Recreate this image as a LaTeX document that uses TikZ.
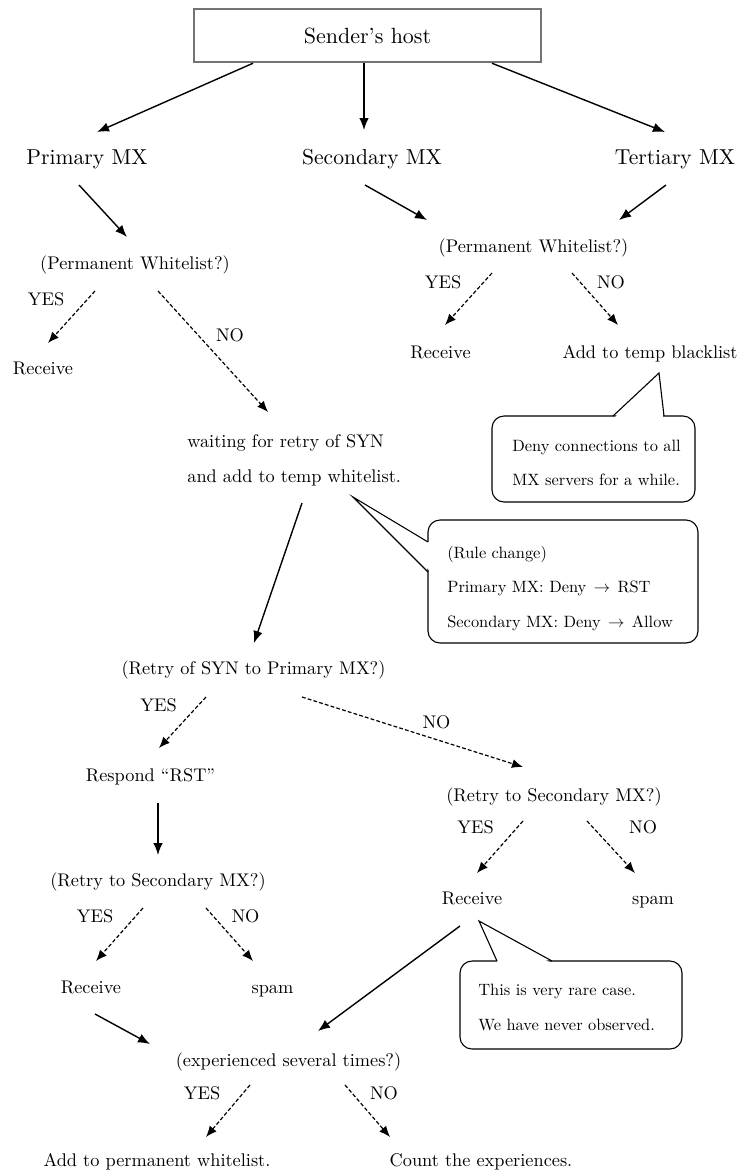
\documentclass[tikz,border=0pt]{standalone}
\usetikzlibrary{arrows.meta,calc}
\tikzset{
  hostbox/.style={draw=black!55, line width=1.1pt, scale=2.2, minimum width=157.7pt,
    minimum height=24.1pt, inner sep=0pt, font=\fontsize{10}{12}\selectfont},
  big/.style={font=\fontsize{10}{12}\selectfont, scale=2.16, inner sep=0pt, anchor=base},
  txt/.style={font=\fontsize{10}{12}\selectfont, scale=1.83, inner sep=0pt, anchor=base},
  note/.style={font=\fontsize{10}{12}\selectfont, scale=1.64, inner sep=0pt, anchor=base west},
  flow/.style={line width=1.4pt, -{Latex[length=12pt,width=9.5pt]}},
  maybe/.style={line width=1.2pt, dash pattern=on 3.8pt off 2.2pt, -{Latex[length=11pt,width=9pt]}},
  bubble/.style={line width=1.1pt, rounded corners=12pt},
  bubbleedge/.style={line width=1.1pt},
}
\begin{document}
\begin{tikzpicture}[x=1pt,y=-1pt]
\useasboundingbox (0,0) rectangle (742,1176);

% --- sender and the three MX hosts
\node[hostbox] (host) at (367.5,35.5) {Sender's host};
\node[big] (pmx) at (87,164) {Primary MX};
\node[big] (smx) at (372,164) {Secondary MX};
\node[big] (tmx) at (675,164) {Tertiary MX};

% --- primary MX branch
\node[txt] (pw1) at (135,269) {(Permanent Whitelist?)};
\node[txt] (yes1) at (46,305) {YES};
\node[txt] (no1) at (230,341) {NO};
\node[txt] (rcv1) at (43,374) {Receive};
\node[txt, anchor=base west] (wait1) at (187,447) {waiting for retry of SYN};
\node[txt, anchor=base west] (wait2) at (187,482) {and add to temp whitelist.};

% --- secondary / tertiary MX branch
\node[txt] (pw2) at (533.5,252) {(Permanent Whitelist?)};
\node[txt] (yes2) at (443,288) {YES};
\node[txt] (no2) at (611,288) {NO};
\node[txt] (rcv2) at (440.5,358) {Receive};
\node[txt] (tbl) at (650,358) {Add to temp blacklist};

% --- retry of SYN
\node[txt] (rsyn) at (253.5,674) {(Retry of SYN to Primary MX?)};
\node[txt] (yes3) at (158.5,711) {YES};
\node[txt] (no3) at (436.5,728) {NO};
\node[txt] (rst) at (150.5,781) {Respond “RST”};
\node[txt] (rs2) at (554,801) {(Retry to Secondary MX?)};
\node[txt] (yes4) at (475.5,833) {YES};
\node[txt] (no4) at (643,833) {NO};
\node[txt] (rcv3) at (472,904) {Receive};
\node[txt] (spam3) at (653,904) {spam};
\node[txt] (rs3) at (158,886) {(Retry to Secondary MX?)};
\node[txt] (yes5) at (95,922) {YES};
\node[txt] (no5) at (245.5,922) {NO};
\node[txt] (rcv4) at (91,993) {Receive};
\node[txt] (spam4) at (272.5,993) {spam};

% --- final decision
\node[txt] (exp) at (288.5,1066) {(experienced several times?)};
\node[txt] (yes6) at (202,1099) {YES};
\node[txt] (no6) at (384,1099) {NO};
\node[txt] (apw) at (157,1166) {Add to permanent whitelist.};
\node[txt] (cnt) at (481,1166) {Count the experiences.};

% --- solid connectors
\draw[flow] ($(host.south)+(-114.5,0)$) -- ($(pmx.base)+(10,-32)$);
\draw[flow] ($(host.south)+(-3.5,0)$) -- ($(smx.base)+(-8,-34)$);
\draw[flow] ($(host.south)+(124.5,0)$) -- ($(tmx.base)+(-10,-32)$);
\draw[flow] ($(pmx.base)+(-8,21)$) -- ($(pw1.base)+(-8,-32)$);
\draw[flow] ($(smx.base)+(-7,21)$) -- ($(pw2.base)+(-106.5,-32)$);
\draw[flow] ($(tmx.base)+(-9,21)$) -- ($(pw2.base)+(85.5,-32)$);
\draw[flow] ($(wait2.base west)+(115,21)$) -- ($(rsyn.base)+(0.5,-31)$);
\draw[flow] ($(rst.base)+(7.5,22)$) -- ($(rs3.base)+(0,-31)$);
\draw[flow] ($(rcv4.base)+(4,21)$) -- ($(exp.base)+(-138.5,-22)$);
\draw[flow] ($(rcv3.base)+(-12,22)$) -- ($(exp.base)+(29.5,-35)$);

% --- dashed YES / NO connectors
\draw[maybe] ($(pw1.base)+(-40,22)$) -- ($(rcv1.base)+(5,-31)$);
\draw[maybe] ($(pw1.base)+(23,22)$) -- ($(wait1.base west)+(81,-35)$);
\draw[maybe] ($(pw2.base)+(-41.5,21)$) -- ($(rcv2.base)+(4.5,-33)$);
\draw[maybe] ($(pw2.base)+(38.5,21)$) -- ($(tbl.base)+(-32,-33)$);
\draw[maybe] ($(rsyn.base)+(-47.5,23)$) -- ($(rst.base)+(8.5,-33)$);
\draw[maybe] ($(rsyn.base)+(48.5,23)$) -- ($(rs2.base)+(-31,-34)$);
\draw[maybe] ($(rs2.base)+(-31,20)$) -- ($(rcv3.base)+(5,-31)$);
\draw[maybe] ($(rs2.base)+(33,20)$) -- ($(spam3.base)+(-18,-31)$);
\draw[maybe] ($(rs3.base)+(-15,22)$) -- ($(rcv4.base)+(5,-32)$);
\draw[maybe] ($(rs3.base)+(48,22)$) -- ($(spam4.base)+(-19.5,-32)$);
\draw[maybe] ($(exp.base)+(-38.5,19)$) -- ($(apw.base)+(49,-29)$);
\draw[maybe] ($(exp.base)+(56.5,19)$) -- ($(cnt.base)+(-91,-29)$);

% --- speech bubbles
% blacklist note
\coordinate (tipA) at ($(tbl.base)+(9,15)$);
\draw[bubble] (492,416) rectangle (695,502);
\fill[white] (614,418) -- (tipA) -- (663,418) -- cycle;
\draw[bubbleedge, line join=miter] (613,416) -- (tipA) -- (664,416);
\node[note] (c1a) at (512,451) {Deny connections to all};
\node[note] (c1b) at (512,485) {MX servers for a while.};

% rule change note
\coordinate (tipB) at ($(wait2.base west)+(166,15)$);
\draw[bubble] (428,520) rectangle (698,643);
\fill[white] (430,543) -- (tipB) -- (430,571) -- cycle;
\draw[bubbleedge, line join=miter] (428,542) -- (tipB) -- (428,572);
\node[note] (c2a) at (447,558) {(Rule change)};
\node[note] (c2b) at (447,592) {Primary MX: Deny\hspace{0.45em}$\rightarrow$\hspace{0.45em}RST};
\node[note] (c2c) at (447,627) {Secondary MX: Deny\hspace{0.45em}$\rightarrow$\hspace{0.45em}Allow};

% rare case note
\coordinate (tipC) at ($(rcv3.base)+(7,17)$);
\draw[bubble] (460,961) rectangle (682,1049);
\fill[white] (498,963) -- (tipC) -- (551,963) -- cycle;
\draw[bubbleedge, line join=miter] (497,961) -- (tipC) -- (552,961);
\node[note] (c3a) at (478,995) {This is very rare case.};
\node[note] (c3b) at (478,1030) {We have never observed.};
\end{tikzpicture}
\end{document}
